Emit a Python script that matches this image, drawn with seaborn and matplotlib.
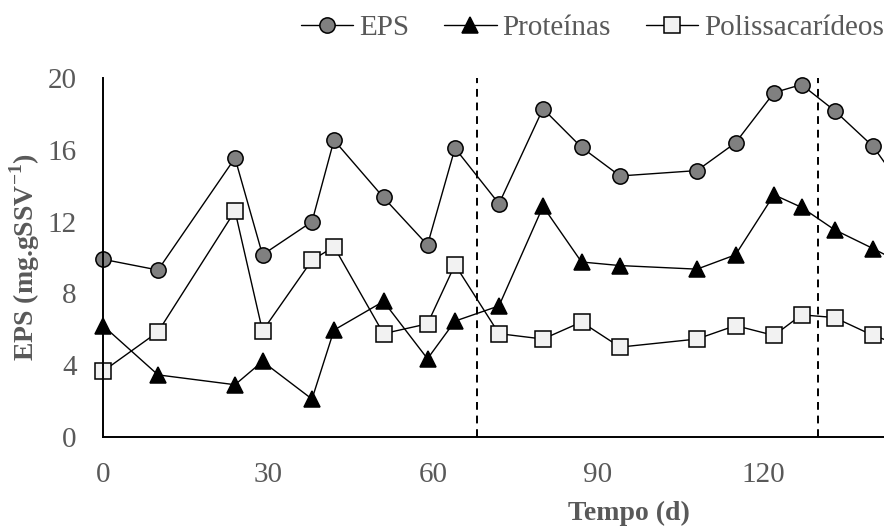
import matplotlib
matplotlib.use("Agg")
import matplotlib.pyplot as plt
import seaborn as sns
import pandas as pd

# Tempo de operação (dias) e concentrações medidas
dias = [0, 10, 24, 29, 38, 42, 51, 59, 64, 72, 80, 87, 94, 108, 115, 122, 127, 133, 140, 147]
eps = [9.9, 9.3, 15.55, 10.15, 12.0, 16.55, 13.35, 10.7, 16.1, 13.0, 18.3, 16.15, 14.55,
       14.85, 16.4, 19.2, 19.65, 18.2, 16.2, 13.2]
proteinas = [6.2, 3.45, 2.9, 4.2, 2.1, 5.95, 7.55, 4.35, 6.45, 7.3, 12.85, 9.75, 9.55,
             9.35, 10.15, 13.5, 12.8, 11.55, 10.5, 9.4]
polissacarideos = [3.65, 5.85, 12.6, 5.9, 9.85, 10.6, 5.75, 6.3, 9.6, 5.75, 5.45, 6.4, 5.0,
                   5.45, 6.2, 5.65, 6.8, 6.65, 5.65, 4.9]
mudancas_fase = [68, 130]
xticks = [0, 30, 60, 90, 120]
yticks = [0, 4, 8, 12, 16, 20]

df = pd.DataFrame({"dias": dias, "EPS": eps, "Proteínas": proteinas,
                   "Polissacarídeos": polissacarideos})

sns.set_theme(style="white")
plt.rcParams["font.family"] = ["Liberation Serif", "DejaVu Serif"]
plt.rcParams["mathtext.fontset"] = "custom"
plt.rcParams["mathtext.rm"] = "Liberation Serif"
plt.rcParams["mathtext.bf"] = "Liberation Serif:bold"

cinza_txt = "#595959"

fig = plt.figure(figsize=(8.84, 5.27), dpi=100)
ax = fig.add_axes([103 / 884, 1 - 436.7 / 527, 1 - 103 / 884, (436.7 - 78.3) / 527])

estilos = {
    "EPS": dict(marker="o", markersize=11, markerfacecolor="#808080"),
    "Proteínas": dict(marker="^", markersize=12, markerfacecolor="black"),
    "Polissacarídeos": dict(marker="s", markersize=11, markerfacecolor="#f2f2f2"),
}
for serie, st in estilos.items():
    sns.lineplot(data=df, x="dias", y=serie, ax=ax, color="black", linewidth=1.0,
                 markeredgecolor="black", markeredgewidth=1.1, label=serie,
                 estimator=None, clip_on=False, **st)

for xv in mudancas_fase:
    ax.axvline(xv, ymin=0, ymax=1, color="black", linestyle=(0, (4, 3)), linewidth=1.4)

ax.set_xlim(0, 142)
ax.set_ylim(0, 20)
ax.set_xticks(xticks)
ax.set_yticks(yticks)

for lado in ["top", "right"]:
    ax.spines[lado].set_visible(False)
for lado in ["left", "bottom"]:
    ax.spines[lado].set_color("black")
    ax.spines[lado].set_linewidth(1.4)

ax.tick_params(axis="both", direction="out", length=7, width=1.4, color="black",
               labelsize=21, labelcolor=cinza_txt)
ax.tick_params(axis="y", pad=12)
ax.tick_params(axis="x", pad=11)

ax.set_xlabel("Tempo (d)", fontsize=20, fontweight="bold", color=cinza_txt)
ax.set_ylabel(r"EPS (mg.gSSV$^{\mathbf{-1}}$)", fontsize=20, fontweight="bold",
              color=cinza_txt)
ax.xaxis.set_label_coords((629 - 103) / (884 - 103), -(501 - 436.7) / (436.7 - 78.3))
ax.yaxis.set_label_coords(-(103 - 42) / (884 - 103), 0.5)

leg = ax.legend(loc="center right", bbox_to_anchor=(1.0, 1 + (78.3 - 28) / (436.7 - 78.3)),
                ncol=3, frameon=False, fontsize=21, handlelength=1.8,
                handletextpad=0.2, columnspacing=1.2, borderaxespad=0, borderpad=0)
for t in leg.get_texts():
    t.set_color(cinza_txt)

fig.savefig("out.png", dpi=100)
